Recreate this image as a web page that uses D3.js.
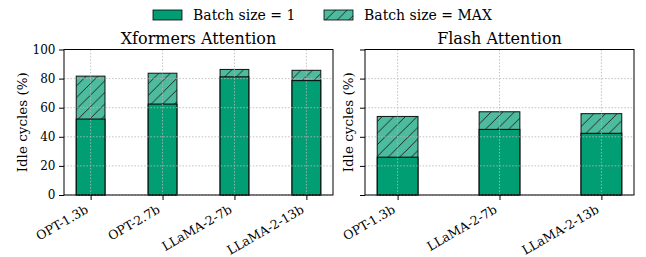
<!DOCTYPE html>
<html>
<head>
<meta charset="utf-8">
<script src="https://cdn.jsdelivr.net/npm/d3@7"></script>
<style>
  body { margin: 0; background: #fff; }
  svg { display: block; font-family: "DejaVu Serif", serif; }
</style>
</head>
<body>
<div id="app"></div>
<script>
const WIDTH = 646;
const HEIGHT = 257;

// data
const xformersModels = ['OPT-1.3b', 'OPT-2.7b', 'LLaMA-2-7b', 'LLaMA-2-13b'];
const xformersBatch1 = [52.2, 62.5, 81.2, 78.6];
const xformersMax = [81.7, 83.7, 86.3, 85.7];

const flashModels = ['OPT-1.3b', 'LLaMA-2-7b', 'LLaMA-2-13b'];
const flashBatch1 = [26, 45.1, 42.4];
const flashMax = [54, 57.2, 55.9];

const yTicks = [0, 20, 40, 60, 80, 100];
const legendLabels = ['Batch size = 1', 'Batch size = MAX'];

const GREEN = '#029E73';
const barWidth = 0.4;

const plotTop = 49.5, plotBottom = 195;

const svg = d3.select('#app')
  .append('svg')
  .attr('width', WIDTH)
  .attr('height', HEIGHT);

const defs = svg.append('defs');
const hs = 11.6;
const pat = defs.append('pattern')
  .attr('id', 'hatch')
  .attr('patternUnits', 'userSpaceOnUse')
  .attr('width', hs)
  .attr('height', hs);
pat.append('rect').attr('width', hs).attr('height', hs).attr('fill', GREEN).attr('fill-opacity', 0.7);
pat.append('path')
  .attr('d', `M0,${hs} L${hs},0 M${-hs/2},${hs/2} L${hs/2},${-hs/2} M${hs/2},${hs*1.5} L${hs*1.5},${hs/2}`)
  .attr('stroke', '#1a1a1a')
  .attr('stroke-width', 0.9);

const y = d3.scaleLinear().domain([0, 100]).range([plotBottom, plotTop]);

function panel(x0, x1, title, models, b1, bmax, showLabels) {
  const n = models.length;
  const lo = -barWidth / 2, hi = n - 1 + barWidth / 2;
  const m = (hi - lo) * 0.05;
  const x = d3.scaleLinear().domain([lo - m, hi + m]).range([x0, x1]);
  const g = svg.append('g');
  const bw = x(barWidth) - x(0);

  // MAX bars behind, batch 1 in front
  g.selectAll('rect.max')
    .data(bmax)
    .enter()
    .append('rect')
    .attr('class', 'max')
    .attr('x', (d, i) => x(i) - bw / 2)
    .attr('y', d => y(d))
    .attr('width', bw)
    .attr('height', d => y(0) - y(d))
    .attr('fill', 'url(#hatch)')
    .attr('stroke', '#111')
    .attr('stroke-width', 1);

  g.selectAll('rect.b1')
    .data(b1)
    .enter()
    .append('rect')
    .attr('class', 'b1')
    .attr('x', (d, i) => x(i) - bw / 2)
    .attr('y', d => y(d))
    .attr('width', bw)
    .attr('height', d => y(0) - y(d))
    .attr('fill', GREEN)
    .attr('stroke', '#000')
    .attr('stroke-width', 1);

  // grid on top of bars
  const grid = g.append('g').attr('stroke', '#b8b8b8').attr('stroke-width', 0.8)
    .attr('stroke-dasharray', '1.6,1.6');
  grid.selectAll('line.h')
    .data(yTicks)
    .enter()
    .append('line')
    .attr('x1', x0).attr('x2', x1)
    .attr('y1', d => y(d)).attr('y2', d => y(d));
  grid.selectAll('line.v')
    .data(models)
    .enter()
    .append('line')
    .attr('x1', (d, i) => x(i)).attr('x2', (d, i) => x(i))
    .attr('y1', plotTop).attr('y2', plotBottom);

  // frame
  g.append('rect')
    .attr('x', x0).attr('y', plotTop)
    .attr('width', x1 - x0).attr('height', plotBottom - plotTop)
    .attr('fill', 'none').attr('stroke', '#000').attr('stroke-width', 1);

  // y axis
  const yAxis = d3.axisLeft(y).tickValues(yTicks).tickSize(5).tickPadding(3.5)
    .tickFormat(showLabels ? d3.format('d') : () => '');
  const ya = g.append('g').attr('transform', `translate(${x0},0)`).call(yAxis);
  ya.select('.domain').remove();
  ya.selectAll('text').attr('font-size', 12).attr('font-family', 'DejaVu Serif').attr('fill', '#000');

  // x axis
  const xAxis = d3.axisBottom(x).tickValues(d3.range(n)).tickSize(5).tickFormat(i => models[i]);
  const xa = g.append('g').attr('transform', `translate(0,${plotBottom})`).call(xAxis);
  xa.select('.domain').remove();
  xa.selectAll('text')
    .attr('font-size', 12.5)
    .attr('font-family', 'DejaVu Serif')
    .attr('fill', '#000')
    .attr('text-anchor', 'end')
    .attr('dy', null)
    .attr('y', 0)
    .attr('transform', 'translate(-2,17) rotate(-30)');

  // title
  svg.append('text')
    .attr('x', (x0 + x1) / 2)
    .attr('y', 43.5)
    .attr('text-anchor', 'middle')
    .attr('font-size', 16)
    .text(title);

  // y label
  svg.append('text')
    .attr('transform', `translate(${x0 - (showLabels ? 37 : 12)},${(plotTop + plotBottom) / 2}) rotate(-90)`)
    .attr('text-anchor', 'middle')
    .attr('font-size', 13.5)
    .text('Idle cycles (%)');
}

panel(64, 333, 'Xformers Attention', xformersModels, xformersBatch1, xformersMax, true);
panel(365, 634, 'Flash Attention', flashModels, flashBatch1, flashMax, false);

// legend
const legendX = [153, 324];
const leg = svg.selectAll('g.legend')
  .data(legendLabels)
  .enter()
  .append('g')
  .attr('transform', (d, i) => `translate(${legendX[i]},10)`);
leg.append('rect')
  .attr('width', 29).attr('height', 10)
  .attr('fill', (d, i) => i === 0 ? GREEN : 'url(#hatch)')
  .attr('stroke', '#000').attr('stroke-width', 0.8);
leg.append('text')
  .attr('x', 40).attr('y', 10)
  .attr('font-size', 14)
  .text(d => d);
</script>
</body>
</html>
